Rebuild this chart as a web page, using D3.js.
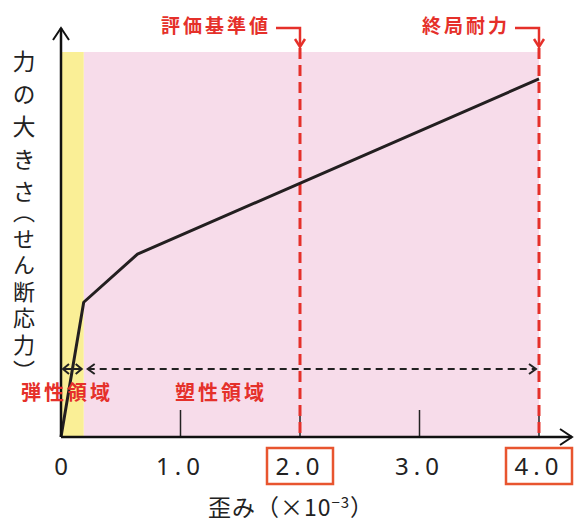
<!DOCTYPE html>
<html><head><meta charset="utf-8">
<script src="https://cdn.jsdelivr.net/npm/d3@7"></script>
<style>body{margin:0;background:#fff}svg{display:block}</style>
</head><body>
<script>
// data
const strain = [0, 0.19, 0.64, 4.0];       // ×10^-3
const stress = [0, 35, 47.5, 93];          // relative force
const xTicks = [0, 1, 2, 3, 4];
const xTickLabels = ["0", "1.0", "2.0", "3.0", "4.0"];
const boxedTicks = [2, 4];
const elasticLimit = 0.19;
const markers = [{x: 2, label: "評価基準値"}, {x: 4, label: "終局耐力"}];
const regionLabels = [{x: 0.1, label: "弾性領域"}, {x: 1.8, label: "塑性領域"}];

const W = 574, H = 522;
const svg = d3.select("body").append("svg").attr("width", W).attr("height", H);
const x = d3.scaleLinear().domain([0, 4]).range([61, 539]);
const y = d3.scaleLinear().domain([0, 100]).range([437, 52]);
const red = "#e5302a", jp = "'Noto Sans CJK JP', sans-serif";

// regions
svg.append("rect").attr("x", x(elasticLimit)).attr("y", y(100))
  .attr("width", x(4) - x(elasticLimit)).attr("height", y(0) - y(100)).attr("fill", "#f7dcea");
svg.append("rect").attr("x", x(0)).attr("y", y(100))
  .attr("width", x(elasticLimit) - x(0)).attr("height", y(0) - y(100)).attr("fill", "#faef96");

// ticks (inside, upward)
svg.selectAll(".tk").data([1, 2, 3, 4]).join("line")
  .attr("x1", d => x(d)).attr("x2", d => x(d)).attr("y1", y(0)).attr("y2", y(0) - 27)
  .attr("stroke", "#222").attr("stroke-width", 1.5);

// red dashed markers
svg.selectAll(".mk").data(markers).join("line")
  .attr("x1", d => x(d.x)).attr("x2", d => x(d.x)).attr("y1", 48).attr("y2", y(0))
  .attr("stroke", red).attr("stroke-width", 3).attr("stroke-dasharray", "11,6");

// curve
svg.append("path")
  .attr("d", d3.line().x((d, i) => x(strain[i])).y(d => y(d))(stress))
  .attr("fill", "none").attr("stroke", "#231f20").attr("stroke-width", 3).attr("stroke-linejoin", "round");

// axes
svg.append("line").attr("x1", x(0)).attr("y1", y(0)).attr("x2", x(0)).attr("y2", 28)
  .attr("stroke", "#111").attr("stroke-width", 2.5);
svg.append("path").attr("d", `M${x(0)-8},${40} L${x(0)},${28} L${x(0)+8},${40}`)
  .attr("fill", "none").attr("stroke", "#111").attr("stroke-width", 2);
svg.append("line").attr("x1", x(0)).attr("y1", y(0)).attr("x2", 572).attr("y2", y(0))
  .attr("stroke", "#111").attr("stroke-width", 2.5);
svg.append("path").attr("d", `M560,${y(0)-8} L572,${y(0)} L560,${y(0)+8}`)
  .attr("fill", "none").attr("stroke", "#111").attr("stroke-width", 2);

// tick labels
const tl = svg.selectAll(".tl").data(xTicks).join("g").attr("transform", d => `translate(${x(d)},0)`);
tl.filter(d => boxedTicks.includes(d)).append("rect")
  .attr("x", -33).attr("y", 448).attr("width", 66).attr("height", 36)
  .attr("fill", "#fff").attr("stroke", "#e8552f").attr("stroke-width", 2.5);
tl.append("text").attr("x", 0).attr("y", 475).attr("text-anchor", "middle")
  .attr("font-family", "'Noto Sans', sans-serif").attr("font-size", 24)
  .attr("letter-spacing", d => d === 0 ? 0 : 5).attr("fill", "#222")
  .text((d, i) => xTickLabels[i]);

// axis title
const t = svg.append("text").attr("x", 291).attr("y", 516).attr("text-anchor", "middle")
  .attr("font-family", jp).attr("font-size", 23).attr("fill", "#222").attr("letter-spacing", 1);
t.append("tspan").text("歪み（×10");
t.append("tspan").attr("dy", -8).attr("font-size", 15).text("−3");
t.append("tspan").attr("dy", 8).text("）");

// y axis label (vertical)
svg.append("text").attr("x", 24).attr("y", 50).attr("font-family", jp).attr("font-size", 23)
  .attr("fill", "#222").style("writing-mode", "vertical-rl").attr("letter-spacing", 9.5)
  .text("力の大きさ");
svg.append("text").attr("x", 24).attr("y", 201).attr("font-family", jp).attr("font-size", 22)
  .attr("fill", "#222").style("writing-mode", "vertical-rl").attr("letter-spacing", 4.5)
  .text("（せん断応力）");

// marker labels with bent arrows
markers.forEach(m => {
  const mx = x(m.x);
  svg.append("text").attr("x", mx - 29).attr("y", 33).attr("text-anchor", "end")
    .attr("font-family", jp).attr("font-size", 19).attr("font-weight", 700)
    .attr("letter-spacing", 3).attr("fill", red).text(m.label);
  svg.append("path").attr("d", `M${mx-24},28 L${mx},28 L${mx},46`)
    .attr("fill", "none").attr("stroke", red).attr("stroke-width", 2.5);
  svg.append("path").attr("d", `M${mx-5},39 L${mx},47 L${mx+5},39`)
    .attr("fill", "none").attr("stroke", red).attr("stroke-width", 2.5);
});

// region arrows
const ay = 369;
svg.append("line").attr("x1", x(0) + 2).attr("x2", x(elasticLimit) - 2).attr("y1", ay).attr("y2", ay)
  .attr("stroke", "#222").attr("stroke-width", 2);
svg.append("path").attr("d", `M${x(0)+8},${ay-5} L${x(0)+2},${ay} L${x(0)+8},${ay+5} M${x(elasticLimit)-8},${ay-5} L${x(elasticLimit)-2},${ay} L${x(elasticLimit)-8},${ay+5}`)
  .attr("fill", "none").attr("stroke", "#222").attr("stroke-width", 2);
svg.append("line").attr("x1", x(elasticLimit) + 4).attr("x2", x(4) - 3).attr("y1", ay).attr("y2", ay)
  .attr("stroke", "#222").attr("stroke-width", 2).attr("stroke-dasharray", "7,5");
svg.append("path").attr("d", `M${x(elasticLimit)+11},${ay-5} L${x(elasticLimit)+4},${ay} L${x(elasticLimit)+11},${ay+5} M${x(4)-10},${ay-5} L${x(4)-3},${ay} L${x(4)-10},${ay+5}`)
  .attr("fill", "none").attr("stroke", "#222").attr("stroke-width", 2);

// region labels
svg.append("text").attr("x", 21).attr("y", 400).attr("font-family", jp).attr("font-size", 20)
  .attr("font-weight", 700).attr("letter-spacing", 3).attr("fill", red).text(regionLabels[0].label);
svg.append("text").attr("x", 175).attr("y", 400).attr("font-family", jp).attr("font-size", 20)
  .attr("font-weight", 700).attr("letter-spacing", 3).attr("fill", red).text(regionLabels[1].label);
</script>
</body></html>
